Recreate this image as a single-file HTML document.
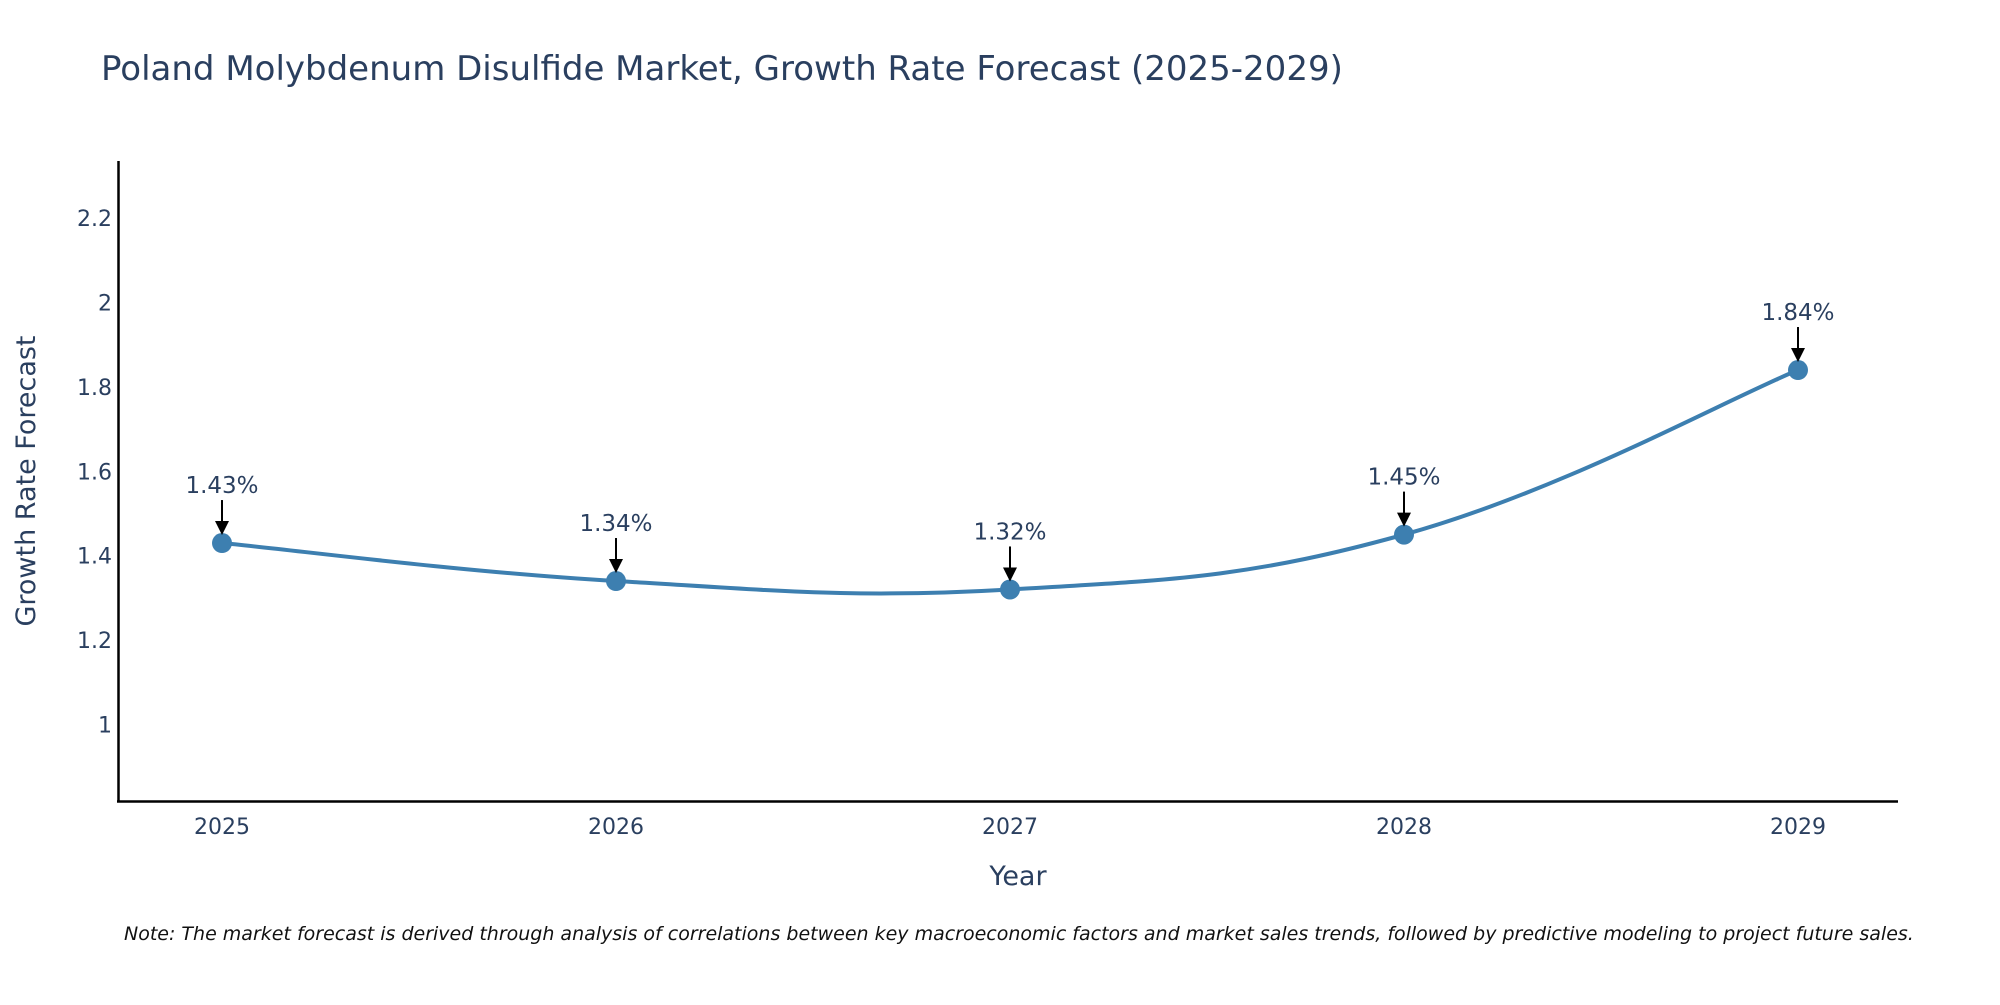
<!DOCTYPE html>
<html><head><meta charset="utf-8"><style>
body{margin:0;background:#fff;}
svg text{font-family:"DejaVu Sans","Liberation Sans",sans-serif;fill:#2a3f5f;}
</style></head><body>
<svg id="chart" width="2000" height="1000" xmlns="http://www.w3.org/2000/svg">
<text x="101" y="80" font-size="34">Poland Molybdenum Disulfide Market, Growth Rate Forecast (2025-2029)</text>
<g id="yticks"></g>
<g id="xticks"></g>
<line x1="118.5" y1="161" x2="118.5" y2="802" stroke="#000" stroke-width="2.5"/>
<line x1="117" y1="801.5" x2="1898" y2="801.5" stroke="#000" stroke-width="2.5"/>
<path id="line" fill="none" stroke="#3d7fb0" stroke-width="4"/>
<g id="marks"></g>
<text x="26" y="481" font-size="27" text-anchor="middle" transform="rotate(-90 26 481)" dy="9">Growth Rate Forecast</text>
<text x="1018" y="885" font-size="27" text-anchor="middle">Year</text>
<text x="124" y="940" font-size="19" font-style="italic" style="fill:#111">Note: The market forecast is derived through analysis of correlations between key macroeconomic factors and market sales trends, followed by predictive modeling to project future sales.</text>
</svg>
<script>
const years=[2025,2026,2027,2028,2029];
const values=[1.43,1.34,1.32,1.45,1.84];
const labels=["1.43%","1.34%","1.32%","1.45%","1.84%"];
const yTicks=[1,1.2,1.4,1.6,1.8,2,2.2];
const yTickLabels=["1","1.2","1.4","1.6","1.8","2","2.2"];
const NS="http://www.w3.org/2000/svg";
function xs(yr){return 222+(yr-2025)*394;}
function ys(v){return 724.5-(v-1)*422;}
function mk(t,a,p){const e=document.createElementNS(NS,t);for(const k in a)e.setAttribute(k,a[k]);p.appendChild(e);return e;}
const yt=document.getElementById('yticks');
yTicks.forEach((v,i)=>{const t=mk('text',{x:112,y:ys(v)+8,'font-size':22,'text-anchor':'end'},yt);t.textContent=yTickLabels[i];

});
const xt=document.getElementById('xticks');
years.forEach(y=>{const t=mk('text',{x:xs(y),y:834,'font-size':22,'text-anchor':'middle'},xt);t.textContent=y;

});
const pts=years.map((y,i)=>[xs(y),ys(values[i])]);
let d='M'+pts[0][0]+','+pts[0][1];
const s=0.2;
for(let i=0;i<pts.length-1;i++){const p0=pts[Math.max(0,i-1)],p1=pts[i],p2=pts[i+1],p3=pts[Math.min(pts.length-1,i+2)];
const c1=[p1[0]+(p2[0]-p0[0])*s,p1[1]+(p2[1]-p0[1])*s],c2=[p2[0]-(p3[0]-p1[0])*s,p2[1]-(p3[1]-p1[1])*s];
d+=' C'+c1+' '+c2+' '+p2;}
document.getElementById('line').setAttribute('d',d);
const g=document.getElementById('marks');
pts.forEach((p,i)=>{const c=mk('circle',{cx:p[0],cy:p[1],r:10,fill:'#3d7fb0'},g);


const l=mk('line',{x1:p[0],y1:p[1]-43,x2:p[0],y2:p[1]-20,stroke:'#000','stroke-width':2},g);


const h=mk('polygon',{points:`${p[0]-7},${p[1]-22} ${p[0]+7},${p[1]-22} ${p[0]},${p[1]-8}`,fill:'#000'},g);


const t=mk('text',{x:p[0],y:p[1]-50,'font-size':23,'text-anchor':'middle'},g);t.textContent=labels[i];

});
</script>
</body></html>
